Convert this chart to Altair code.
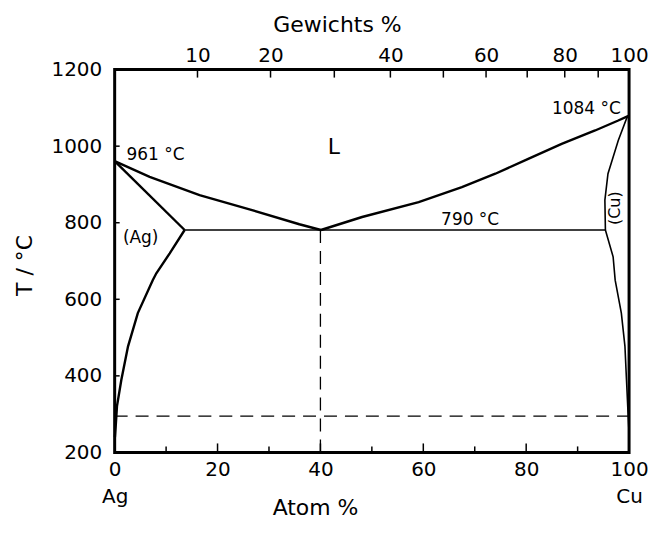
import json
import altair as alt
import pandas as pd

# ---------------- axis tick data ----------------
y_ticks = [200, 400, 600, 800, 1000, 1200]
x_label_ticks = [0, 20, 40, 60, 80, 100]
x_major_ticks = [20, 40, 60, 80]
x_minor_ticks = [10, 30, 50, 70, 90]
elements = ["Ag", "Cu"]

# top axis: weight-% ticks and their position on the atom-% scale
wt_ticks = [10, 20, 30, 40, 50, 60, 70, 80, 90, 100]
wt_tick_atom = [16.1, 30.3, 42.7, 53.6, 63.9, 72.2, 80.2, 87.5, 94.0, 100]
wt_shown = [10, 20, 40, 60, 80, 100]

# ---------------- phase boundaries (atom-% Cu, T in degC) ----------------
liq_left_atom = [0, 6.8, 16.5, 26.2, 35.9, 40.1]
liq_left_T = [961, 920, 872, 835, 796, 781]

sol_left_atom = [0, 13.6]
sol_left_T = [961, 781]

solvus_left_atom = [13.6, 10.7, 8.1, 7.4, 4.5, 2.6, 1.3, 0.45, 0.2, 0.05]
solvus_left_T = [781, 720, 668, 650, 564, 477, 390, 321, 268, 240]

liq_right_atom = [40.1, 48.1, 59.1, 67.5, 74.0, 80.4, 86.9, 93.4, 97.9, 100]
liq_right_T = [781, 815, 854, 893, 928, 967, 1006, 1041, 1067, 1080]

sol_right_atom = [100, 99.5, 97.9, 95.9, 95.3, 95.4]
sol_right_T = [1080, 1072, 1015, 928, 859, 781]

solvus_right_atom = [95.4, 96.9, 97.3, 98.5, 99.2, 99.5, 99.8, 100]
solvus_right_T = [781, 711, 650, 564, 477, 390, 304, 250]

eutectic_atom = [13.6, 95.4]
eutectic_T = [781, 781]

dash_v_atom = [40, 40]
dash_v_T = [200, 781]
dash_h_atom = [0, 100]
dash_h_T = [295, 295]

# ---------------- annotations ----------------
ann_text = ["961 °C", "(Ag)", "L", "790 °C", "1084 °C", "(Cu)"]
ann_atom = [2.3, 1.6, 42.6, 69.1, 91.7, 97.2]
ann_T = [976, 760, 997, 807, 1098, 838]


def curve(name, xs, ts):
    return pd.DataFrame({"atom": xs, "T": ts, "curve": name, "i": range(len(xs))})


thick = pd.concat([
    curve("liq_left", liq_left_atom, liq_left_T),
    curve("sol_left", sol_left_atom, sol_left_T),
    curve("solvus_left", solvus_left_atom, solvus_left_T),
    curve("liq_right", liq_right_atom, liq_right_T),
])
thin = pd.concat([
    curve("eutectic", eutectic_atom, eutectic_T),
    curve("sol_right", sol_right_atom, sol_right_T),
    curve("solvus_right", solvus_right_atom, solvus_right_T),
])
dashed = pd.concat([
    curve("dash_v", dash_v_atom, dash_v_T),
    curve("dash_h", dash_h_atom, dash_h_T),
])
ann = pd.DataFrame({"text": ann_text, "atom": ann_atom, "T": ann_T})

W, H = 516, 384
FONT = "DejaVu Sans"
xscale = alt.Scale(domain=[0, 100], nice=False, zero=False)
yscale = alt.Scale(domain=[200, 1200], nice=False, zero=False)


def X(f="atom"):
    return alt.X(f"{f}:Q", scale=xscale, axis=None)


def Y(f="T"):
    return alt.Y(f"{f}:Q", scale=yscale, axis=None)


thick_layer = alt.Chart(thick).mark_line(color="black", strokeWidth=2.4).encode(
    x=X(), y=Y(), detail="curve:N", order="i:Q")
thin_layer = alt.Chart(thin).mark_line(color="black", strokeWidth=1.6).encode(
    x=X(), y=Y(), detail="curve:N", order="i:Q")
dash_layer = alt.Chart(dashed).mark_line(color="black", strokeWidth=1.3, strokeDash=[13, 8]).encode(
    x=X(), y=Y(), detail="curve:N", order="i:Q")

# ---- axes ----
bottom_expr = (f"datum.value == 0 ? ['0', '{elements[0]}'] : "
               f"datum.value == 100 ? ['100', '{elements[1]}'] : datum.label")
top_labels = [str(w) if w in wt_shown else "" for w in wt_ticks]
top_expr = f"{json.dumps(top_labels)}[indexof({json.dumps(wt_tick_atom)}, datum.value)]"

left_ticks = alt.Chart(pd.DataFrame({"T": y_ticks})).mark_rule(color="black", strokeWidth=1.5).encode(
    y=alt.Y("T:Q", scale=yscale, axis=alt.Axis(
        orient="left", values=y_ticks, format="d", labelFontSize=20, labelPadding=13,
        title="T / °C", titleFontSize=22, titleFontWeight="normal", titleAngle=270,
        titleX=-90, titleY=196, titleAlign="center", titleBaseline="middle")),
    x=alt.value(0), x2=alt.value(5))

bottom_major = alt.Chart(pd.DataFrame({"atom": x_major_ticks})).mark_rule(color="black", strokeWidth=1.5).encode(
    x=alt.X("atom:Q", scale=xscale, axis=alt.Axis(
        orient="bottom", values=x_label_ticks, format="d", labelExpr=bottom_expr,
        labelFontSize=20, labelPadding=7, labelLineHeight=27, labelFlush=False,
        labelBaseline="top",
        title="Atom %", titleFontSize=22, titleFontWeight="normal",
        titleX=201, titleY=62, titleAlign="center", titleBaseline="alphabetic")),
    y=alt.value(H), y2=alt.value(H - 9))
bottom_minor = alt.Chart(pd.DataFrame({"atom": x_minor_ticks})).mark_rule(color="black", strokeWidth=1.5).encode(
    x=X(), y=alt.value(H), y2=alt.value(H - 6))

top_ticks = alt.Chart(pd.DataFrame({"atom": wt_tick_atom})).mark_rule(color="black", strokeWidth=1.5).encode(
    x=alt.X("atom:Q", scale=xscale, axis=alt.Axis(
        orient="top", values=wt_tick_atom, labelExpr=top_expr, labelFontSize=20,
        labelPadding=4, labelFlush=False,
        title="Gewichts %", titleFontSize=22, titleFontWeight="normal",
        titleX=223, titleY=-38, titleAlign="center", titleBaseline="alphabetic")),
    y=alt.value(0), y2=alt.value(8))


# ---- annotations ----
def txt(rows, **kw):
    return alt.Chart(ann.iloc[rows]).mark_text(color="black", font=FONT, **kw).encode(
        x=X(), y=Y(), text="text:N")


t_left = txt([0, 1], fontSize=17, align="left", baseline="middle")
t_L = txt([2], fontSize=22, align="center", baseline="middle")
t_center = txt([3, 4], fontSize=17, align="center", baseline="middle")
t_cu = txt([5], fontSize=16, align="center", baseline="middle", angle=270)

chart = alt.layer(
    left_ticks, bottom_major, top_ticks,
    dash_layer, thin_layer, thick_layer, bottom_minor,
    t_left, t_L, t_center, t_cu,
).resolve_axis(x="independent", y="independent").properties(
    width=W, height=H,
    autosize=alt.AutoSizeParams(type="none"),
    padding={"left": 107, "top": 61, "right": 20, "bottom": 68},
).configure_view(stroke="black", strokeWidth=3).configure_axis(
    labelFont=FONT, titleFont=FONT, labelColor="black", titleColor="black",
    domain=False, ticks=False, grid=False)

chart.save("out.html", embed_options={"renderer": "svg", "actions": False})
